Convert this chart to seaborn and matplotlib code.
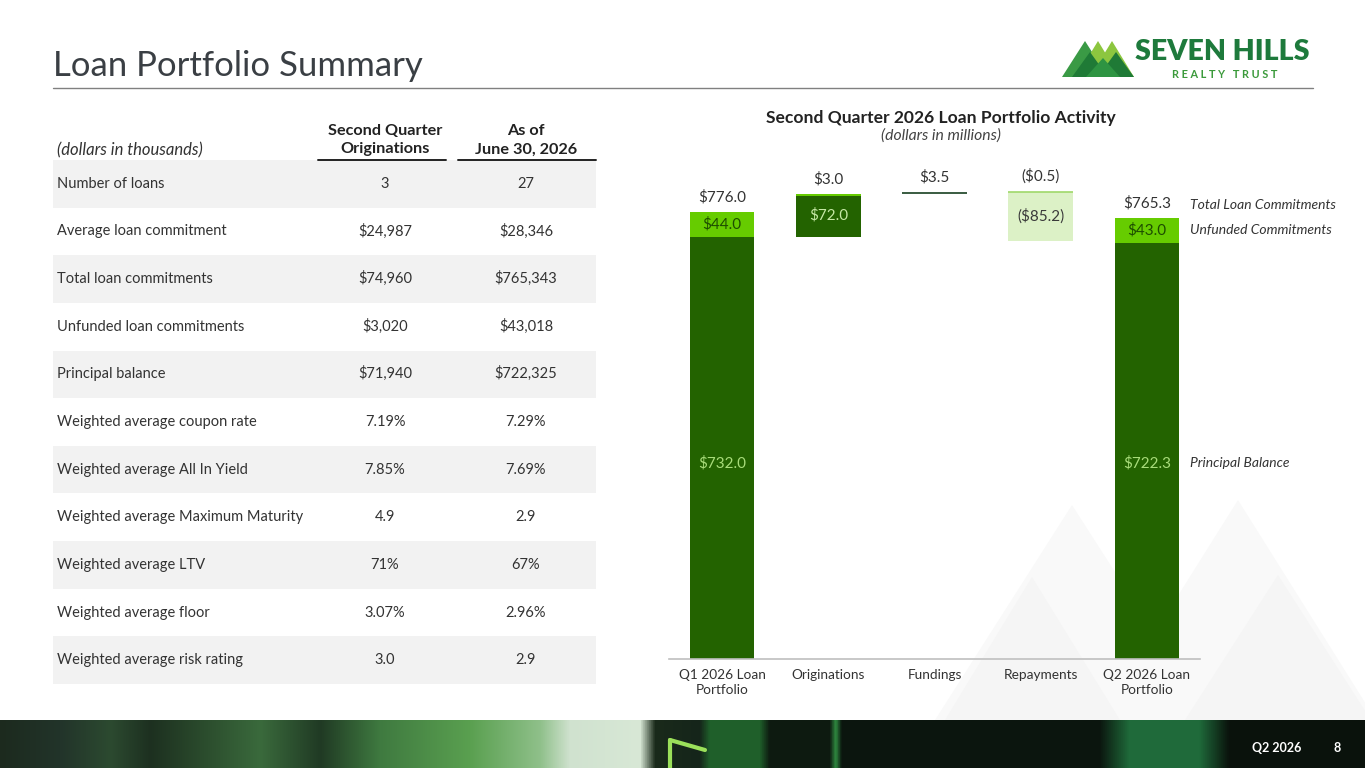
import numpy as np
import pandas as pd
import matplotlib
matplotlib.use("Agg")
import matplotlib.pyplot as plt
import seaborn as sns
from matplotlib.patches import Rectangle, Polygon
from matplotlib.colors import LinearSegmentedColormap

# ---------------- data ----------------
table_labels = [
    "Number of loans",
    "Average loan commitment",
    "Total loan commitments",
    "Unfunded loan commitments",
    "Principal balance",
    "Weighted average coupon rate",
    "Weighted average All In Yield",
    "Weighted average Maximum Maturity",
    "Weighted average LTV",
    "Weighted average floor",
    "Weighted average risk rating",
]
col_originations = ["3", "$24,987", "$74,960", "$3,020", "$71,940", "7.19%",
                    "7.85%", "4.9", "71%", "3.07%", "3.0"]
col_asof = ["27", "$28,346", "$765,343", "$43,018", "$722,325", "7.29%",
            "7.69%", "2.9", "67%", "2.96%", "2.9"]
col_headers = ["Second Quarter\nOriginations", "As of\nJune 30, 2026"]

chart_categories = ["Q1 2026 Loan\nPortfolio", "Originations", "Fundings",
                    "Repayments", "Q2 2026 Loan\nPortfolio"]
end_categories = ["Q1 2026 Loan\nPortfolio", "Q2 2026 Loan\nPortfolio"]
end_principal = [732.0, 722.3]
end_unfunded = [44.0, 43.0]
end_total = [776.0, 765.3]
orig_funded = 72.0
orig_unfunded = 3.0
fundings = 3.5
repay_unfunded = -0.5
repayments = -85.2
series_names = ["Total Loan Commitments", "Unfunded Commitments", "Principal Balance"]

# ---------------- style ----------------
DARK = "#236300"
LIGHT = "#66cc00"
REPAY_FILL = "#dcf1c6"
REPAY_TOP = "#9fd86a"
FUND = "#3d5f45"
TXT = "#333333"

sns.set_theme(style="white")
plt.rcParams["font.family"] = ["Lato", "DejaVu Sans"]

fig = plt.figure(figsize=(13.65, 7.68), dpi=100)
fig.patch.set_facecolor("white")

bg = fig.add_axes([0, 0, 1, 1], zorder=0)
bg.set_xlim(0, 1365)
bg.set_ylim(768, 0)
bg.axis("off")

# faint background mountains
for pts, c in [
    ([(1072, 505), (935, 720), (1210, 720)], "#f9f9f9"),
    ([(1238, 500), (1100, 720), (1376, 720)], "#f9f9f9"),
    ([(1032, 577), (945, 720), (1120, 720)], "#f5f5f5"),
    ([(1278, 575), (1185, 720), (1371, 720)], "#f5f5f5"),
]:
    bg.add_patch(Polygon(pts, closed=True, facecolor=c, edgecolor="none", zorder=0))

# title + rule
bg.text(53, 66, "Loan Portfolio Summary", fontsize=25, color="#3a3f44",
        va="center", ha="left")
bg.plot([53, 1313], [87.5, 87.5], color="#808080", lw=1.0)

# logo
for pts, c in [
    ([(1062, 77), (1085, 41), (1108, 77)], "#3a9a45"),
    ([(1076, 77), (1098, 41), (1120, 77)], "#8cc63f"),
    ([(1090, 77), (1112, 41), (1134, 77)], "#8cc63f"),
    ([(1072, 77), (1090, 52), (1108, 77)], "#1f7a36"),
    ([(1098, 77), (1116, 52), (1134, 77)], "#1f7a36"),
    ([(1086, 77), (1103, 58), (1120, 77)], "#2e9442"),
]:
    bg.add_patch(Polygon(pts, closed=True, facecolor=c, edgecolor="none"))
bg.text(1135, 52, "SEVEN HILLS", fontsize=20.5, fontweight="heavy",
        color="#1e7a3c", va="center", ha="left")
bg.text(1225, 74.5, "R E A L T Y   T R U S T", fontsize=7.8, color="#3b9a3b",
        va="center", ha="center", fontweight="bold")

# ---------------- table ----------------
row_top = 160.0
row_h = (684.0 - 160.0) / len(table_labels)
col_x = [385, 526]
TFS = 10.5
for i, (lab, v1, v2) in enumerate(zip(table_labels, col_originations, col_asof)):
    y0 = row_top + i * row_h
    if i % 2 == 0:
        bg.add_patch(Rectangle((53, y0), 543, row_h, facecolor="#f2f2f2",
                               edgecolor="none", zorder=1))
    yc = y0 + row_h / 2 + 4
    bg.text(57, yc, lab, fontsize=TFS, color=TXT, va="baseline", ha="left", zorder=2)
    bg.text(col_x[0], yc, v1, fontsize=TFS, color=TXT, va="baseline", ha="center", zorder=2)
    bg.text(col_x[1], yc, v2, fontsize=TFS, color=TXT, va="baseline", ha="center", zorder=2)

bg.text(57, 150, "(dollars in thousands)", fontsize=12, style="italic",
        color=TXT, va="center", ha="left")
for hdr, cx, (ux0, ux1) in zip(col_headers, col_x, [(318, 446), (458, 596)]):
    bg.text(cx, 140, hdr, fontsize=11.7, fontweight="bold", color="#222222",
            va="center", ha="center", linespacing=1.45)
    bg.plot([ux0, ux1], [159.5, 159.5], color="#222222", lw=1.4, zorder=3)

# ---------------- chart ----------------
bg.text(941, 118, "Second Quarter 2026 Loan Portfolio Activity", fontsize=12.6,
        fontweight="bold", color="#222222", ha="center", va="center")
bg.text(941, 136, "(dollars in millions)", fontsize=11.3, style="italic",
        color="#444444", ha="center", va="center")

ax = fig.add_axes([669 / 1365, 1 - 659 / 768, 531 / 1365, 490 / 768], zorder=2)
ax.patch.set_alpha(0)

df_end = pd.DataFrame({"cat": end_categories, "total": end_total,
                       "principal": end_principal})
BW = 0.61
sns.barplot(data=df_end, x="cat", y="total", order=chart_categories, color=LIGHT,
            width=BW, saturation=1, errorbar=None, linewidth=0, ax=ax)
sns.barplot(data=df_end, x="cat", y="principal", order=chart_categories, color=DARK,
            width=BW, saturation=1, errorbar=None, linewidth=0, ax=ax)

level0 = end_principal[0]
ax.bar(1, orig_funded, bottom=level0, width=BW, color=DARK, edgecolor="none")
ax.bar(1, orig_unfunded, bottom=level0 + orig_funded, width=BW, color=LIGHT,
       edgecolor="none")
level1 = level0 + orig_funded + orig_unfunded
ax.bar(2, fundings, bottom=level1, width=BW, color=FUND, edgecolor="none")
level2 = level1 + fundings
ax.bar(3, repayments, bottom=level2 + repay_unfunded, width=BW, color=REPAY_FILL,
       edgecolor="none")
ax.bar(3, repay_unfunded, bottom=level2, width=BW, color=REPAY_TOP,
       edgecolor=REPAY_TOP, linewidth=1.2)

def fmt(v):
    return f"(${abs(v):.1f})" if v < 0 else f"${v:.1f}"

LABEL_Y = 340
FS = 11
for xi, tot, pr in zip([0, 4], end_total, end_principal):
    ax.annotate(fmt(tot), (xi, tot), xytext=(0, 5), textcoords="offset points",
                ha="center", va="bottom", fontsize=FS, color=TXT)
    ax.text(xi, (tot + pr) / 2, fmt(tot - pr), ha="center", va="center",
            fontsize=FS, color="#1d4d00")
    ax.text(xi, LABEL_Y, fmt(pr), ha="center", va="center", fontsize=FS,
            color="#a8dc7a")

ax.annotate(fmt(orig_unfunded), (1, level1), xytext=(0, 5), textcoords="offset points",
            ha="center", va="bottom", fontsize=FS, color=TXT)
ax.text(1, level0 + (orig_funded + orig_unfunded) / 2, fmt(orig_funded),
        ha="center", va="center", fontsize=FS, color="#c5e8a5")
ax.annotate(fmt(fundings), (2, level2), xytext=(0, 5), textcoords="offset points",
            ha="center", va="bottom", fontsize=FS, color=TXT)
ax.annotate(fmt(repay_unfunded), (3, level2), xytext=(0, 6), textcoords="offset points",
            ha="center", va="bottom", fontsize=FS, color=TXT)
ax.text(3, level2 + (repay_unfunded + repayments) / 2, fmt(repayments),
        ha="center", va="center", fontsize=FS, color="#3a3a3a")

RX = 4.41
ax.annotate(series_names[0], (RX, end_total[1]), xytext=(0, 5),
            textcoords="offset points", ha="left", va="bottom", fontsize=10,
            style="italic", color=TXT, annotation_clip=False)
ax.text(RX, (end_total[1] + end_principal[1]) / 2, series_names[1], ha="left",
        va="center", fontsize=10, style="italic", color=TXT, clip_on=False)
ax.text(RX, LABEL_Y, series_names[2], ha="left", va="center", fontsize=10,
        style="italic", color=TXT, clip_on=False)

ax.set_xlim(-0.5, 4.5)
ax.set_ylim(0, 850)
ax.set_xlabel("")
ax.set_ylabel("")
ax.set_yticks([])
ax.set_xticks(range(len(chart_categories)))
ax.set_xticklabels(chart_categories, fontsize=9.8, color=TXT, linespacing=1.35)
ax.tick_params(axis="x", length=0, pad=7)
for s in ["top", "right", "left"]:
    ax.spines[s].set_visible(False)
ax.spines["bottom"].set_color("#bfbfbf")
ax.spines["bottom"].set_linewidth(1.2)

# ---------------- footer (decorative photo band) ----------------
stops = [
    (0, "#1c2a1e"), (60, "#22342a"), (110, "#2c4a30"), (150, "#1d3020"),
    (200, "#2a4a2c"), (260, "#3a6a3c"), (320, "#203a24"), (380, "#3f7a40"),
    (470, "#5aa050"), (540, "#8fc08a"), (570, "#d0e2cf"), (640, "#d8e8d6"),
    (655, "#1a2a1a"), (700, "#15251a"), (710, "#1f5f2a"), (760, "#1f5f2a"),
    (770, "#0d1a10"), (830, "#0d1a10"), (836, "#2f8a40"), (842, "#0b150e"),
    (1100, "#0b150e"), (1130, "#1f6a3a"), (1200, "#1f6a3a"), (1230, "#0a120c"),
    (1365, "#0a120c"),
]
cmap = LinearSegmentedColormap.from_list("foot", [(p / 1365, c) for p, c in stops],
                                         N=2048)
bg.imshow(np.linspace(0, 1, 1365)[None, :], cmap=cmap, aspect="auto",
          extent=[0, 1365, 768, 720], zorder=1, interpolation="nearest")
bg.set_xlim(0, 1365)
bg.set_ylim(768, 0)
bg.plot([670, 670], [740, 768], color="#9be05a", lw=3, zorder=2)
bg.plot([670, 705], [740, 750], color="#9be05a", lw=3, zorder=2)
bg.text(1277, 748, "Q2 2026", fontsize=9, fontweight="bold", color="white",
        ha="center", va="center", zorder=3)
bg.text(1337, 748, "8", fontsize=9, fontweight="bold", color="white",
        ha="center", va="center", zorder=3)

fig.savefig("out.png", dpi=100, facecolor="white")
